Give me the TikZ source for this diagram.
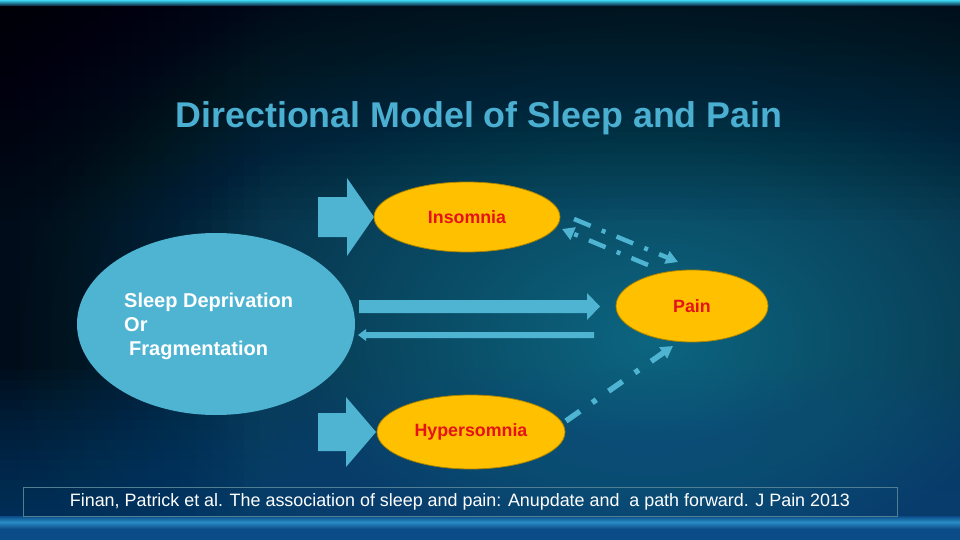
\documentclass[tikz,border=0pt]{standalone}
\usepackage{fontspec}
\setmainfont{Liberation Sans}
\usetikzlibrary{shapes.geometric,arrows.meta}
\definecolor{bgbase}{HTML}{042238}
\definecolor{bgteal}{HTML}{0C6580}
\definecolor{bgouter}{HTML}{041C33}
\definecolor{topline}{HTML}{3ED8F5}
\definecolor{lowblue}{HTML}{0B4C88}
\definecolor{glow}{HTML}{2A8CC4}
\definecolor{blu}{HTML}{4EB4D2}
\definecolor{titleblue}{HTML}{4AAFD0}
\definecolor{orng}{HTML}{FFC000}
\definecolor{orngline}{HTML}{A88300}
\definecolor{redtxt}{HTML}{E5121A}
\definecolor{boxline}{HTML}{4F7F90}
\tikzset{
  oval/.style={ellipse, fill=orng, draw=orngline, line width=0.8pt, inner sep=0pt,
    text=redtxt, font=\bfseries\fontsize{17.8}{20}\selectfont},
  blockarrow/.style={fill=blu, draw=none},
  dashlink/.style={draw=blu, line width=4.5pt, dash pattern=on 18pt off 12pt on 4pt off 12pt,
    -{Triangle[length=12pt,width=13pt]}},
}
\begin{document}
\begin{tikzpicture}[x=1pt,y=-1pt]
\useasboundingbox (0,0) rectangle (960,540);
% ---------- background ----------
\fill[bgouter] (0,0) rectangle (960,540);
\begin{scope}
\clip (0,0) rectangle (960,540);
\shade[inner color=bgteal, outer color=bgouter] (650,340) ellipse (640 and 430);
\foreach \i in {0,...,19} \fill[black, opacity=0.026] (0,0) rectangle (960,{220-\i*11});
\foreach \i in {0,...,15} \fill[black, opacity=0.03] (0,0) rectangle ({260-\i*16},540);
\foreach \i in {0,...,15} \fill[lowblue, opacity=0.06] (0,540) rectangle (960,{370+\i*10});
\fill[top color=topline, bottom color=bgouter] (0,0) rectangle (960,6);
\fill[top color=lowblue, bottom color=glow] (0,516) rectangle (960,522);
\fill[top color=glow, bottom color=lowblue] (0,522) rectangle (960,529);
\fill[lowblue] (0,529) rectangle (960,540);
\end{scope}
% ---------- title ----------
\node[anchor=base, text=titleblue, font=\bfseries\fontsize{35.8}{40}\selectfont, inner sep=0pt]
  (title) at (479,127.5) {Directional Model of Sleep and Pain};
% ---------- block arrows ----------
\fill[blockarrow] (318,197) -- (347,197) -- (347,178) -- (374,217) -- (347,256) -- (347,237) -- (318,237) -- cycle;
\fill[blockarrow] (318,413) -- (346,413) -- (346,397) -- (376,432) -- (346,467) -- (346,451) -- (318,451) -- cycle;
% ---------- nodes ----------
\node[ellipse, fill=blu, minimum width=278pt, minimum height=182pt, inner sep=0pt] (sdf) at (216,324) {};
\node[anchor=north west, align=left, text=white, inner sep=0pt,
  font=\bfseries\fontsize{20}{24}\selectfont] (sdftext) at (124,292.5)
  {Sleep Deprivation\\Or\\\hspace*{0.25em}Fragmentation};
\node[oval, minimum width=186pt, minimum height=70pt] (ins) at (467,217) {Insomnia};
\node[oval, minimum width=152pt, minimum height=72pt] (pain) at (692,306) {Pain};
\node[oval, minimum width=188pt, minimum height=74pt] (hyp) at (471,432) {Hypersomnia};
% ---------- straight arrows ----------
\fill[blockarrow] (359,300) -- (587,300) -- (587,293) -- (600,306.5) -- (587,320) -- (587,313) -- (359,313) -- cycle;
\fill[blockarrow] (594,332) -- (366,332) -- (366,329) -- (358,335) -- (366,341) -- (366,338) -- (594,338) -- cycle;
% ---------- dash-dot links ----------
\coordinate (insR1) at (574,219);
\coordinate (painT1) at (678,262);
\coordinate (painT2) at (648,265);
\coordinate (insR2) at (562,229);
\coordinate (hypR) at (566,421);
\coordinate (painB) at (673,346);
\draw[dashlink] (insR1) -- (painT1);
\draw[dashlink] (painT2) -- (insR2);
\draw[dashlink, line width=5.5pt, dash pattern=on 17pt off 15pt on 5pt off 15pt] (hypR) -- (painB);
% ---------- citation ----------
\node[draw=boxline, line width=0.8pt, minimum width=874pt, minimum height=29pt, inner sep=0pt,
  text=white, font=\fontsize{17.9}{20}\selectfont] (cite) at (460,502)
  {Finan, Patrick et al. The association of sleep and pain: Anupdate and\ \ a path forward. J Pain 2013};
\end{tikzpicture}
\end{document}
